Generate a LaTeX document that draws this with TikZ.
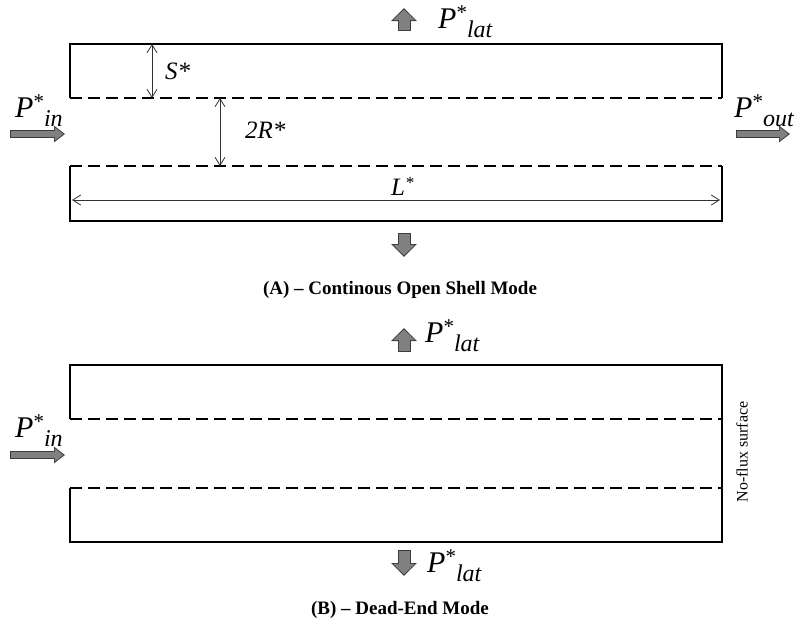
\documentclass[tikz,border=0pt]{standalone}
\usepackage{fontspec}
\setmainfont{Liberation Serif}
\usetikzlibrary{arrows.meta,positioning}
\definecolor{cWall}{RGB}{0,0,0}
\definecolor{cFlux}{RGB}{128,128,128}
\definecolor{cRim}{RGB}{60,60,60}
\definecolor{cDim}{RGB}{50,50,50}
\newcommand{\Pstar}[1]{\textit{P}\raisebox{0.3em}{\fontsize{21}{21}\selectfont *}\raisebox{-0.33em}{\fontsize{24}{24}\selectfont\itshape #1}}
\tikzset{
  wall/.style={cWall,line width=2pt,line join=miter},
  pore/.style={cWall,line width=1.8pt,dash pattern=on 12pt off 6pt},
  dimarrow/.style={cDim,line width=0.8pt,{Straight Barb[length=8pt,width=10pt]}-{Straight Barb[length=8pt,width=10pt]}},
  latflux/.style={draw=cRim,line width=13pt,-{Triangle[width=25pt,length=13pt]},
    postaction={draw=cFlux,line width=11pt,shorten >=1.6pt,shorten <=1pt,-{Triangle[width=21pt,length=10.5pt]}}},
  axflux/.style={draw=cRim,line width=7.5pt,-{Triangle[width=16pt,length=11pt]},
    postaction={draw=cFlux,line width=5.5pt,shorten >=1.6pt,shorten <=1pt,-{Triangle[width=12.5pt,length=8.5pt]}}},
  fluxlbl/.style={font=\fontsize{30}{34}\selectfont,inner sep=0pt,anchor=base west},
  dimlbl/.style={font=\fontsize{25}{29}\selectfont\itshape,inner sep=0pt},
  caption/.style={font=\fontsize{19}{22}\selectfont\bfseries,inner sep=0pt}
}
\begin{document}
\begin{tikzpicture}[x=1pt,y=-1pt]
  \useasboundingbox (0,0) rectangle (800,625);
  % (A) continuous open shell
  \coordinate (aTL) at (70,44);   \coordinate (aTR) at (722,44);
  \coordinate (aML) at (70,98);   \coordinate (aMR) at (722,98);
  \coordinate (aNL) at (70,166);  \coordinate (aNR) at (722,166);
  \coordinate (aBL) at (70,221);  \coordinate (aBR) at (722,221);
  \draw[wall] (aML) -- (aTL) -- (aTR) -- (aMR);
  \draw[wall] (aNL) -- (aBL) -- (aBR) -- (aNR);
  \draw[pore] (aML) -- (aMR);
  \draw[pore] (aNL) -- (aNR);
  \draw[dimarrow] (152,44) -- (152,98);
  \node[dimlbl,anchor=west] (sLbl) at (165,71) {S*};
  \draw[dimarrow] (220,98) -- (220,166);
  \node[dimlbl,anchor=west] (rLbl) at (245,130) {2R*};
  \draw[dimarrow] (72,200) -- (720,200);
  \node[dimlbl,anchor=base west] (lLbl) at (391,195) {L\raisebox{0.25em}{\fontsize{17}{17}\selectfont *}};
  \draw[latflux] (404,31) -- (404,8);
  \node[fluxlbl] (latA) at (438,28) {\Pstar{lat}};
  \draw[latflux] (404,233) -- (404,257);
  \draw[axflux] (10,134) -- (65,134);
  \node[fluxlbl] (inA) at (15,117) {\Pstar{in}};
  \draw[axflux] (736,134) -- (790,134);
  \node[fluxlbl] (outA) at (734,117) {\Pstar{out}};
  \node[caption] (capA) at (400,290) {(A) -- Continous Open Shell Mode};
  % (B) dead-end
  \coordinate (bTL) at (70,365);  \coordinate (bTR) at (722,365);
  \coordinate (bML) at (70,419);  \coordinate (bMR) at (722,419);
  \coordinate (bNL) at (70,488);  \coordinate (bNR) at (722,488);
  \coordinate (bBL) at (70,542);  \coordinate (bBR) at (722,542);
  \draw[wall] (bML) -- (bTL) -- (bTR) -- (bBR) -- (bBL) -- (bNL);
  \draw[pore] (bML) -- (bMR);
  \draw[pore] (bNL) -- (bNR);
  \draw[latflux] (404,352) -- (404,328);
  \node[fluxlbl] (latB) at (425,342) {\Pstar{lat}};
  \draw[latflux] (404,550) -- (404,576);
  \node[fluxlbl] (latC) at (427,572) {\Pstar{lat}};
  \draw[axflux] (10,455) -- (65,455);
  \node[fluxlbl] (inB) at (15,437) {\Pstar{in}};
  \node[font=\fontsize{16}{19}\selectfont,rotate=90,inner sep=0pt] (noflux) at (742,452) {No-flux surface};
  \node[caption] (capB) at (400,610) {(B) -- Dead-End Mode};
\end{tikzpicture}
\end{document}
